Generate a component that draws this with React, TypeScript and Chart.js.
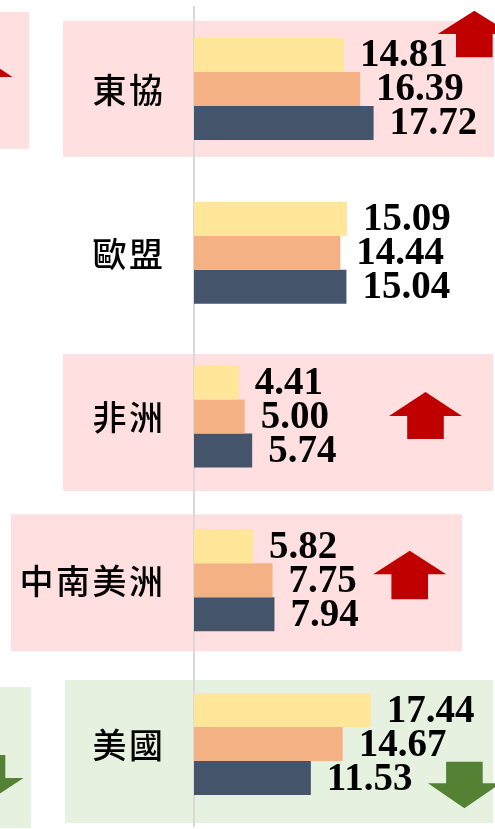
import React, { useEffect, useRef } from "react";
import { Chart, registerables } from "chart.js";

Chart.register(...registerables);

// ---- data ----
const categories = ["東協", "歐盟", "非洲", "中南美洲", "美國"];
const seriesNames = ["數列1", "數列2", "數列3"];
const series1 = [14.81, 15.09, 4.41, 5.82, 17.44];
const series2 = [16.39, 14.44, 5.0, 7.75, 14.67];
const series3 = [17.72, 15.04, 5.74, 7.94, 11.53];
const xMax = 29.7;

// ---- styles ----
const barColors = ["#FFE699", "#F4B183", "#44546A"];
const PINK = "#FFDFDF";
const GREEN_BG = "#E6F1DF";
const RED = "#C00000";
const GREEN = "#548235";

// decorative highlight boxes (x in canvas px, dy relative to category centre)
const boxes = [
  { cat: 0, x0: -10, x1: 29, dy0: -77, dy1: 60, color: PINK },
  { cat: 0, x0: 63, x1: 494, dy0: -68, dy1: 68, color: PINK },
  { cat: 2, x0: 63, x1: 493, dy0: -62.5, dy1: 74.5, color: PINK },
  { cat: 3, x0: 11, x1: 462, dy0: -66, dy1: 71, color: PINK },
  { cat: 4, x0: 65, x1: 493, dy0: -64, dy1: 79, color: GREEN_BG },
  { cat: 4, x0: -10, x1: 31, dy0: -57, dy1: 84, color: GREEN_BG },
];

// block arrows (tip / head base / shaft end, dy relative to category centre)
const arrows = [
  { cat: 0, cx: -24, tip: -36, base: -12, end: 11, color: RED },
  { cat: 0, cx: 474.3, tip: -78.2, base: -55, end: -31.6, color: RED },
  { cat: 2, cx: 425.5, tip: -24.5, base: -0.5, end: 22.5, color: RED },
  { cat: 3, cx: 409.7, tip: -29.6, base: -6, end: 19, color: RED },
  { cat: 4, cx: 464.4, tip: 64.2, base: 39.2, end: 17.6, color: GREEN },
  { cat: 4, cx: -13, tip: 58, base: 34, end: 11, color: GREEN },
];
const headHalf = 36.5;
const shaftHalf = 18.3;

const decorPlugin = {
  id: "decor",
  beforeDraw(chart: any) {
    const { ctx } = chart;
    const y = chart.scales.y;
    ctx.save();
    boxes.forEach((b) => {
      const cy = y.getPixelForValue(b.cat);
      ctx.fillStyle = b.color;
      ctx.fillRect(b.x0, cy + b.dy0, b.x1 - b.x0, b.dy1 - b.dy0);
    });
    arrows.forEach((a) => {
      const cy = y.getPixelForValue(a.cat);
      ctx.fillStyle = a.color;
      ctx.beginPath();
      ctx.moveTo(a.cx - shaftHalf, cy + a.end);
      ctx.lineTo(a.cx - shaftHalf, cy + a.base);
      ctx.lineTo(a.cx - headHalf, cy + a.base);
      ctx.lineTo(a.cx, cy + a.tip);
      ctx.lineTo(a.cx + headHalf, cy + a.base);
      ctx.lineTo(a.cx + shaftHalf, cy + a.base);
      ctx.lineTo(a.cx + shaftHalf, cy + a.end);
      ctx.closePath();
      ctx.fill();
    });
    ctx.restore();
  },
  afterDatasetsDraw(chart: any) {
    const { ctx, chartArea } = chart;
    const y = chart.scales.y;
    ctx.save();
    // category labels
    ctx.fillStyle = "#000";
    ctx.font = '500 34px "Noto Sans CJK TC", "Noto Sans CJK SC", sans-serif';
    ctx.textAlign = "center";
    ctx.textBaseline = "middle";
    const pitch = 36.5;
    const rightEdge = chartArea.left - 32;
    categories.forEach((cat, i) => {
      const cy = y.getPixelForValue(i);
      const chars = Array.from(cat);
      const n = chars.length;
      chars.forEach((ch, k) => {
        const cx = rightEdge - 16 - (n - 1 - k) * pitch;
        ctx.fillText(ch, cx, cy + 1);
      });
    });
    // value labels
    ctx.font = 'bold 39px "Liberation Serif", "Times New Roman", serif';
    ctx.textAlign = "left";
    ctx.textBaseline = "middle";
    chart.data.datasets.forEach((ds: any, di: number) => {
      const meta = chart.getDatasetMeta(di);
      meta.data.forEach((el: any, i: number) => {
        const v = ds.data[i] as number;
        ctx.fillText(v.toFixed(2), el.x + 16, el.y + 1.5);
      });
    });
    ctx.restore();
  },
};

export default function App() {
  const ref = useRef<HTMLCanvasElement>(null);
  useEffect(() => {
    const chart = new Chart(ref.current!, {
      type: "bar",
      data: {
        labels: categories,
        datasets: [series1, series2, series3].map((d, i) => ({
          label: seriesNames[i],
          data: d,
          backgroundColor: barColors[i],
          borderWidth: 0,
          barPercentage: 1,
          categoryPercentage: 0.623,
        })),
      },
      options: {
        indexAxis: "y",
        responsive: false,
        animation: false,
        devicePixelRatio: 1,
        layout: { padding: { left: 0, top: 7, bottom: 3, right: 0 } },
        plugins: { legend: { display: false }, tooltip: { enabled: false } },
        scales: {
          x: { display: false, min: 0, max: xMax },
          y: {
            display: true,
            ticks: { display: false },
            grid: { display: false },
            border: { display: true, color: "#D9D9D9", width: 2 },
            afterFit: (s: any) => {
              s.width = 194;
            },
          },
        },
      },
      plugins: [decorPlugin],
    } as any);
    return () => chart.destroy();
  }, []);
  return (
    <div style={{ position: "fixed", left: 0, top: 0, width: 495, height: 829, background: "#fff" }}>
      <canvas ref={ref} width={495} height={829} style={{ display: "block", width: 495, height: 829 }} />
    </div>
  );
}
